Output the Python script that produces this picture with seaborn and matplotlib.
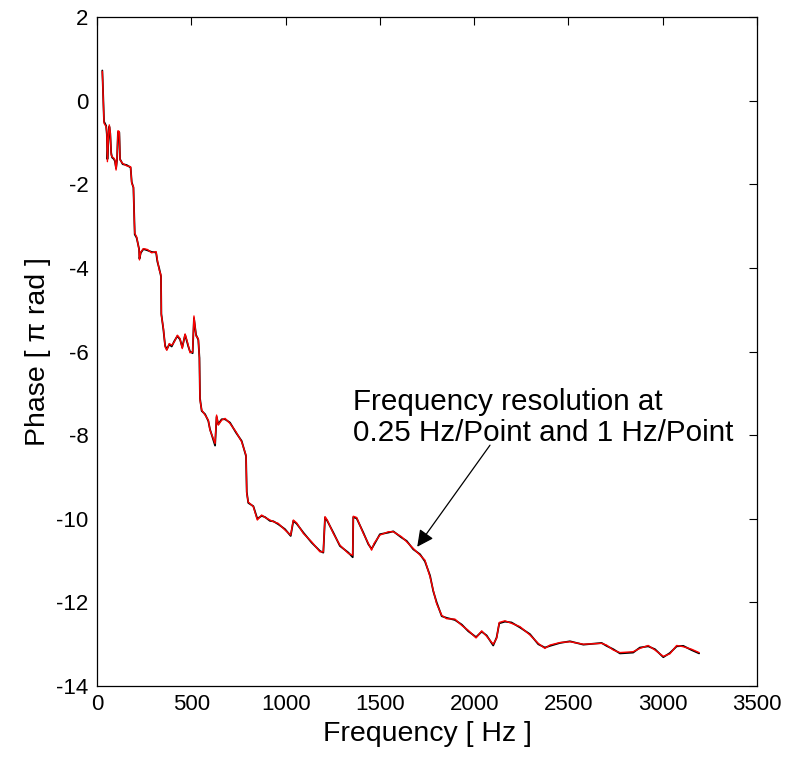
import matplotlib
matplotlib.use("Agg")
import matplotlib.pyplot as plt
import seaborn as sns
import pandas as pd

# ---- data ----
freq_hz = [28, 30, 37, 48, 52, 55, 60, 65, 70, 75, 80, 90, 95, 101, 106, 111, 118, 122,
           136, 157, 178, 184, 193, 198, 200, 210, 223, 225, 232, 246, 267, 290, 313,
           320, 330, 339, 341, 352, 361, 370, 383, 396, 410, 426, 440, 452, 467, 484,
           493, 507, 514, 525, 537, 543, 546, 555, 573, 590, 599, 613, 626, 634, 643,
           661, 679, 705, 737, 767, 790, 794, 802, 829, 850, 873, 891, 917, 935, 961,
           997, 1027, 1041, 1059, 1094, 1138, 1182, 1200, 1209, 1221, 1253, 1288, 1333,
           1356, 1359, 1377, 1412, 1439, 1456, 1469, 1500, 1545, 1571, 1615, 1642, 1677,
           1713, 1739, 1766, 1783, 1801, 1828, 1854, 1898, 1934, 1969, 2010, 2040, 2066,
           2101, 2119, 2133, 2163, 2198, 2243, 2296, 2340, 2375, 2402, 2455, 2508, 2579,
           2676, 2702, 2738, 2773, 2843, 2879, 2923, 2959, 3003, 3038, 3074, 3109, 3153,
           3193]

phase_fine = [0.70, 0.45, -0.54, -0.62, -0.75, -1.46, -0.90, -0.58, -0.75, -1.30, -1.34,
              -1.38, -1.42, -1.66, -1.40, -0.72, -0.74, -1.42, -1.50, -1.56, -1.58, -1.98,
              -2.06, -2.94, -3.17, -3.26, -3.57, -3.81, -3.62, -3.54, -3.56, -3.64, -3.61,
              -3.81, -4.05, -4.17, -5.13, -5.45, -5.89, -5.97, -5.81, -5.85, -5.77, -5.61,
              -5.69, -5.93, -5.58, -5.85, -6.03, -6.01, -5.15, -5.63, -5.69, -6.17, -7.16,
              -7.40, -7.52, -7.64, -7.88, -8.04, -8.20, -7.52, -7.76, -7.64, -7.60, -7.72,
              -7.92, -8.16, -8.48, -9.39, -9.60, -9.71, -10.03, -9.91, -9.97, -10.03,
              -10.07, -10.11, -10.27, -10.39, -10.03, -10.10, -10.35, -10.55, -10.79,
              -10.79, -9.95, -10.03, -10.35, -10.63, -10.83, -10.87, -9.94, -9.97, -10.35,
              -10.59, -10.75, -10.59, -10.39, -10.31, -10.31, -10.43, -10.55, -10.71,
              -10.87, -10.99, -11.39, -11.71, -12.03, -12.31, -12.39, -12.40, -12.55,
              -12.67, -12.85, -12.68, -12.81, -13.00, -12.86, -12.48, -12.44, -12.50,
              -12.58, -12.78, -12.98, -13.10, -13.02, -12.96, -12.94, -13.00, -12.98,
              -13.02, -13.14, -13.20, -13.18, -13.10, -13.03, -13.14, -13.29, -13.23,
              -13.03, -13.06, -13.12, -13.20]

phase_coarse = [0.72, 0.47, -0.50, -0.60, -0.80, -1.40, -0.95, -0.62, -0.78, -1.25, -1.36,
                -1.40, -1.45, -1.62, -1.42, -0.75, -0.76, -1.40, -1.52, -1.54, -1.60, -1.95,
                -2.08, -2.90, -3.20, -3.28, -3.55, -3.78, -3.64, -3.55, -3.58, -3.62, -3.63,
                -3.85, -4.02, -4.20, -5.10, -5.48, -5.86, -5.95, -5.83, -5.88, -5.75, -5.63,
                -5.71, -5.90, -5.60, -5.88, -6.00, -6.04, -5.20, -5.60, -5.72, -6.15, -7.12,
                -7.42, -7.50, -7.66, -7.86, -8.06, -8.25, -7.56, -7.74, -7.62, -7.62, -7.70,
                -7.94, -8.14, -8.50, -9.36, -9.62, -9.70, -10.00, -9.93, -9.96, -10.05,
                -10.06, -10.13, -10.25, -10.41, -10.05, -10.12, -10.33, -10.57, -10.77,
                -10.81, -9.97, -10.05, -10.33, -10.65, -10.81, -10.92, -9.96, -9.99, -10.33,
                -10.61, -10.72, -10.62, -10.37, -10.33, -10.30, -10.45, -10.53, -10.73,
                -10.85, -11.02, -11.36, -11.73, -12.00, -12.33, -12.37, -12.42, -12.53,
                -12.69, -12.83, -12.70, -12.79, -13.03, -12.84, -12.50, -12.46, -12.48,
                -12.60, -12.76, -13.00, -13.08, -13.04, -12.97, -12.93, -13.01, -12.97,
                -13.04, -13.12, -13.22, -13.20, -13.08, -13.05, -13.12, -13.31, -13.21,
                -13.05, -13.04, -13.14, -13.22]

x_ticks = [0, 500, 1000, 1500, 2000, 2500, 3000, 3500]
y_ticks = [2, 0, -2, -4, -6, -8, -10, -12, -14]

annotation_text = "Frequency resolution at\n0.25 Hz/Point and 1 Hz/Point"

df_fine = pd.DataFrame({"Frequency": freq_hz, "Phase": phase_fine})
df_coarse = pd.DataFrame({"Frequency": freq_hz, "Phase": phase_coarse})

sns.set_style("white")
plt.rcParams["font.family"] = ["Liberation Sans", "DejaVu Sans"]
plt.rcParams["axes.unicode_minus"] = False
plt.rcParams["text.color"] = "black"
plt.rcParams["axes.labelcolor"] = "black"
plt.rcParams["xtick.color"] = "black"
plt.rcParams["ytick.color"] = "black"

fig = plt.figure(figsize=(7.87, 7.62), dpi=100)
ax = fig.add_axes([0.1233, 0.0997, 0.8386, 0.878])

sns.lineplot(data=df_coarse, x="Frequency", y="Phase", color="black", linewidth=1.3,
             sort=False, estimator=None, ax=ax)
sns.lineplot(data=df_fine, x="Frequency", y="Phase", color="red", linewidth=1.0,
             sort=False, estimator=None, ax=ax)

ax.set_xlim(0, 3500)
ax.set_ylim(-14, 2)
ax.set_xticks(x_ticks)
ax.set_yticks(y_ticks)
ax.tick_params(direction="in", length=6, width=0.8, top=True, right=True,
               labelsize=16, colors="black", pad=6)
for s in ax.spines.values():
    s.set_color("black")
    s.set_linewidth(0.9)

ax.set_xlabel("Frequency [ Hz ]", fontsize=20.5, labelpad=4)
ax.set_ylabel("Phase [ \u03c0 rad ]", fontsize=20.5, labelpad=4)

ax.text(1357, -7.57, annotation_text, fontsize=21.3, ha="left", va="center",
        linespacing=1.15, color="black")
ax.annotate("", xy=(1698, -10.67), xytext=(2084, -8.24),
            arrowprops=dict(arrowstyle="-|>", color="black", lw=0.9,
                            mutation_scale=25, shrinkA=0, shrinkB=0))

fig.savefig("out.png", dpi=100)
